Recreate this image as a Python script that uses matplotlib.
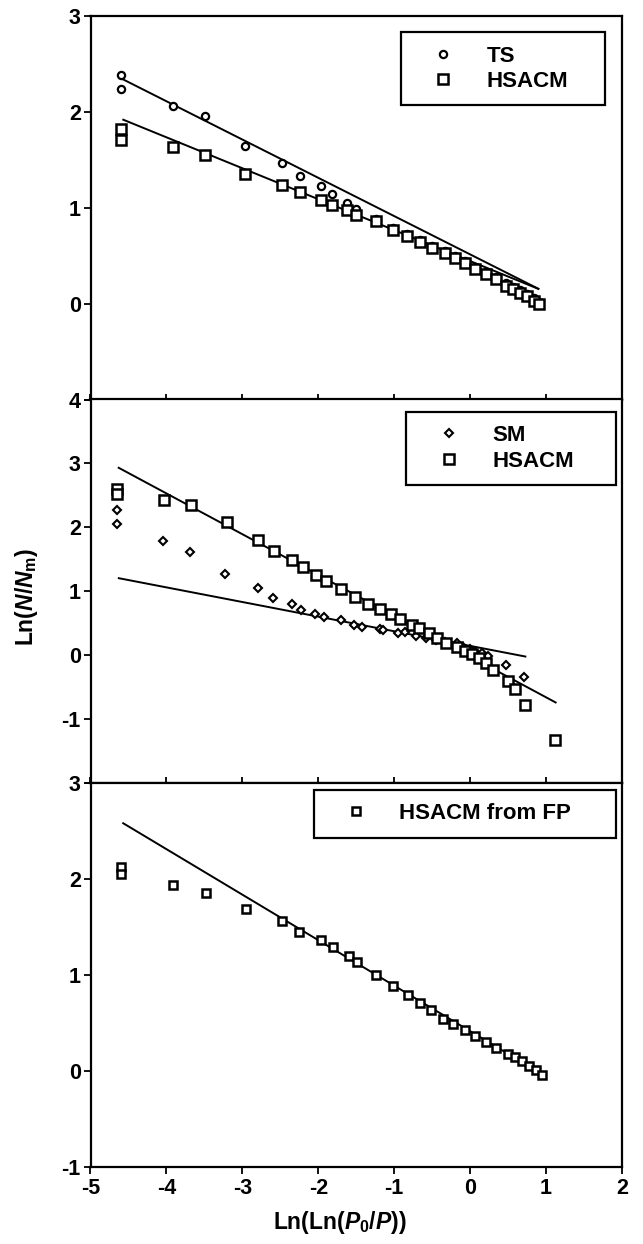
import matplotlib
matplotlib.use("Agg")
import matplotlib.pyplot as plt

plt.rcParams['font.family'] = ['Liberation Sans', 'DejaVu Sans']
plt.rcParams['font.weight'] = 'bold'
plt.rcParams['axes.unicode_minus'] = False
plt.rcParams['mathtext.fontset'] = 'custom'
plt.rcParams['mathtext.rm'] = 'Liberation Sans:bold'
plt.rcParams['mathtext.it'] = 'Liberation Sans:italic:bold'
plt.rcParams['mathtext.bf'] = 'Liberation Sans:bold'

# ---------------- data ----------------
# Panel 1: TS and HSACM
p1_x = [-4.60, -4.60, -3.91, -3.49, -2.97, -2.48, -2.24, -1.97, -1.82, -1.625, -1.50,
        -1.245, -1.02, -0.837, -0.656, -0.497, -0.337, -0.202, -0.066, 0.07, 0.207,
        0.343, 0.478, 0.569, 0.66, 0.751, 0.842, 0.909]
p1_ts_y = [2.38, 2.235, 2.055, 1.96, 1.645, 1.465, 1.334, 1.23, 1.143, 1.05, 0.99,
           0.88, 0.79, 0.725, 0.66, 0.60, 0.55, 0.50, 0.445, 0.38, 0.33, 0.275,
           0.21, 0.175, 0.14, 0.105, 0.055, 0.02]
p1_hs_y = [1.82, 1.71, 1.63, 1.55, 1.355, 1.24, 1.16, 1.084, 1.025, 0.973, 0.928,
           0.859, 0.772, 0.703, 0.64, 0.582, 0.53, 0.478, 0.426, 0.357, 0.305, 0.253,
           0.183, 0.149, 0.114, 0.079, 0.027, -0.007]
p1_ts_fit_x = [-4.58, 0.91]
p1_ts_fit_y = [2.34, 0.15]
p1_hs_fit_x = [-4.58, 0.91]
p1_hs_fit_y = [1.92, 0.15]

# Panel 2: SM and HSACM
p2_sm_x = [-4.657, -4.657, -4.045, -3.686, -3.228, -2.797, -2.593, -2.344, -2.222, -2.04,
           -1.926, -1.707, -1.527, -1.418, -1.19, -1.15, -0.95, -0.859, -0.71, -0.587,
           -0.452, -0.337, -0.179, -0.088, 0.003, 0.07, 0.161, 0.229, 0.478, 0.714]
p2_sm_y = [2.277, 2.05, 1.796, 1.613, 1.274, 1.06, 0.893, 0.799, 0.71, 0.647,
           0.595, 0.553, 0.475, 0.449, 0.407, 0.39, 0.355, 0.371, 0.303, 0.266,
           0.24, 0.214, 0.188, 0.135, 0.094, 0.057, 0.031, -0.011, -0.152, -0.335]
p2_hs_x = [-4.657, -4.657, -4.036, -3.672, -3.206, -2.788, -2.584, -2.348, -2.198, -2.025,
           -1.902, -1.70, -1.518, -1.345, -1.19, -1.04, -0.918, -0.77, -0.679, -0.542,
           -0.437, -0.315, -0.179, -0.066, 0.025, 0.116, 0.207, 0.298, 0.502, 0.593,
           0.729, 1.122]
p2_hs_y = [2.60, 2.527, 2.433, 2.355, 2.078, 1.807, 1.64, 1.493, 1.389, 1.26,
           1.169, 1.034, 0.909, 0.799, 0.72, 0.647, 0.564, 0.475, 0.423, 0.345,
           0.266, 0.198, 0.125, 0.068, 0.016, -0.037, -0.115, -0.23, -0.402, -0.532,
           -0.778, -1.327]
p2_sm_fit_x = [-4.64, 0.74]
p2_sm_fit_y = [1.21, -0.02]
p2_hs_fit_x = [-4.64, 1.137]
p2_hs_fit_y = [2.94, -0.742]

# Panel 3: HSACM from FP
p3_x = [-4.593, -4.593, -3.913, -3.482, -2.947, -2.484, -2.253, -1.962, -1.80, -1.60,
        -1.495, -1.245, -1.019, -0.814, -0.656, -0.51, -0.352, -0.224, -0.066, 0.07,
        0.207, 0.343, 0.502, 0.593, 0.683, 0.773, 0.864, 0.942]
p3_y = [2.129, 2.056, 1.938, 1.858, 1.691, 1.563, 1.452, 1.365, 1.292, 1.205,
        1.139, 1.007, 0.893, 0.799, 0.712, 0.635, 0.549, 0.493, 0.427, 0.372,
        0.302, 0.244, 0.181, 0.146, 0.104, 0.059, 0.01, -0.038]
p3_fit_x = [-4.58, 0.977]
p3_fit_y = [2.59, -0.045]

xticks = [-5, -4, -3, -2, -1, 0, 1, 2]
p1_yticks = [-1, 0, 1, 2, 3]
p1_yticklabels = ['', '0', '1', '2', '3']
p2_yticks = [-2, -1, 0, 1, 2, 3, 4]
p2_yticklabels = ['', '-1', '0', '1', '2', '3', '4']
p3_yticks = [-1, 0, 1, 2, 3]
p3_yticklabels = ['-1', '0', '1', '2', '3']

# ---------------- figure ----------------
W, H = 643, 1244
fig = plt.figure(figsize=(W / 100, H / 100), dpi=100)

left = 90.5 / W
width = 531.5 / W
ph = 383.9 / H
ax1 = fig.add_axes([left, 1 - 399.6 / H, width, ph])
ax2 = fig.add_axes([left, 1 - 783.4 / H, width, ph])
ax3 = fig.add_axes([left, 1 - 1167.3 / H, width, ph])

TICK_FS = 15.5
LEG_FS = 16
LABEL_FS = 16.5
line_kw = dict(color='black', lw=1.4, solid_capstyle='butt')
mk = dict(linestyle='none', markerfacecolor='white', markeredgecolor='black')

# Panel 1
ax1.plot(p1_ts_fit_x, p1_ts_fit_y, **line_kw)
ax1.plot(p1_hs_fit_x, p1_hs_fit_y, **line_kw)
l_ts, = ax1.plot(p1_x, p1_ts_y, marker='o', markersize=5.2, markeredgewidth=1.6, label='TS', **mk)
l_hs, = ax1.plot(p1_x, p1_hs_y, marker='s', markersize=7.2, markeredgewidth=1.8, label='HSACM', **mk)

# Panel 2
ax2.plot(p2_sm_fit_x, p2_sm_fit_y, **line_kw)
ax2.plot(p2_hs_fit_x, p2_hs_fit_y, **line_kw)
l_sm, = ax2.plot(p2_sm_x, p2_sm_y, marker='D', markersize=4.5, markeredgewidth=1.5, label='SM', **mk)
l_hs2, = ax2.plot(p2_hs_x, p2_hs_y, marker='s', markersize=7.2, markeredgewidth=1.8, label='HSACM', **mk)

# Panel 3
ax3.plot(p3_fit_x, p3_fit_y, **line_kw)
l_fp, = ax3.plot(p3_x, p3_y, marker='s', markersize=6.2, markeredgewidth=1.8, label='HSACM from FP', **mk)

def style(ax, yticks, ylabels, ylim, bottom_labels):
    ax.set_xlim(-5, 2)
    ax.set_ylim(*ylim)
    ax.set_xticks(xticks)
    ax.set_yticks(yticks)
    ax.set_yticklabels(ylabels)
    for s in ax.spines.values():
        s.set_linewidth(1.6)
        s.set_color('black')
    ax.tick_params(axis='y', direction='out', length=5, width=1.3, labelsize=TICK_FS, pad=2)
    if bottom_labels:
        ax.tick_params(axis='x', direction='out', length=5, width=1.3, labelsize=TICK_FS, pad=3)
    else:
        ax.tick_params(axis='x', direction='in', length=4, width=1.3, labelbottom=False)
    for t in ax.get_xticklabels() + ax.get_yticklabels():
        t.set_fontweight('bold')

style(ax1, p1_yticks, p1_yticklabels, (-1, 3), False)
style(ax2, p2_yticks, p2_yticklabels, (-2, 4), False)
style(ax3, p3_yticks, p3_yticklabels, (-1, 3), True)

leg_kw = dict(loc='upper left', mode='expand', borderaxespad=0, fancybox=False,
              edgecolor='black', framealpha=1, prop={'weight': 'bold', 'size': LEG_FS},
              borderpad=0.6, handlelength=2.66, handletextpad=0.6, labelspacing=0.2,
              numpoints=1)

def add_legend(ax, handles, x0, top, w):
    leg = ax.legend(handles=handles, bbox_to_anchor=(x0, 0.0, w, top), **leg_kw)
    leg.get_frame().set_linewidth(1.6)
    return leg

add_legend(ax1, [l_ts, l_hs], 0.5834, 0.957, 0.385)
add_legend(ax2, [l_sm, l_hs2], 0.5945, 0.968, 0.395)
add_legend(ax3, [l_fp], 0.4196, 0.983, 0.570)

fig.text(27 / W, 1 - 597 / H, r'Ln($N$/$N_{\rm m}$)', rotation=90, ha='center', va='center',
         fontsize=LABEL_FS, fontweight='bold')
fig.text(340 / W, 1 - 1222 / H, r'Ln(Ln($P_{\rm 0}$/$P$))', ha='center', va='center',
         fontsize=LABEL_FS, fontweight='bold')

fig.savefig('out.png', dpi=100)
